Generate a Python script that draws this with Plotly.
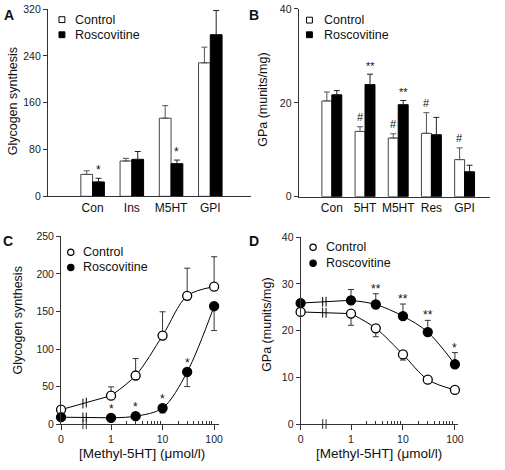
import numpy as np
import plotly.graph_objects as go

# ---------------- data ----------------
# Panel A
a_cats = ["Con", "Ins", "M5HT", "GPI"]
a_ctrl = [37.5, 60.4, 133.7, 228.3]
a_ctrl_err = [6.1, 4.5, 21.3, 26.8]
a_ros = [24.6, 63.2, 55.9, 276.4]
a_ros_err = [6.2, 13.4, 6.1, 41.4]
a_ctrl_sig = ["", "", "", ""]
a_ros_sig = ["*", "", "*", ""]
a_yticks = [0, 80, 160, 240, 320]

# Panel B
b_cats = ["Con", "5HT", "M5HT", "Res", "GPI"]
b_ctrl = [20.4, 13.9, 12.5, 13.5, 7.9]
b_ctrl_err = [1.9, 1.0, 0.9, 4.4, 2.5]
b_ros = [21.7, 23.9, 19.6, 13.2, 5.3]
b_ros_err = [0.9, 2.2, 0.9, 3.7, 1.4]
b_ctrl_sig = ["", "#", "#", "#", "#"]
b_ros_sig = ["", "**", "**", "", ""]
b_yticks = [0, 20, 40]

# Panels C and D (x = [Methyl-5HT], umol/l)
conc = [0, 1, 3, 10, 30, 100]
conc_ticks = [0, 1, 10, 100]

c_ctrl = [19.5, 38.1, 64.9, 118.0, 170.8, 183.0]
c_ctrl_err = [0, 11.7, 22.5, 31.6, 36.8, 39.8]
c_ros = [9.5, 8.7, 10.8, 21.6, 69.6, 157.0]
c_ros_err = [0, 0, 0, 6.5, 19.4, 32.4]
c_ros_sig = ["", "*", "*", "*", "*", ""]
c_yticks = [0, 50, 100, 150, 200, 250]

d_ctrl = [24.0, 23.65, 20.5, 14.9, 9.5, 7.3]
d_ctrl_err = [0, 2.5, 1.8, 1.2, 0.7, 0.55]
d_ros = [25.9, 26.5, 25.6, 23.1, 19.7, 12.8]
d_ros_err = [0, 2.3, 2.3, 2.6, 2.5, 2.5]
d_ros_sig = ["", "", "**", "**", "**", "*"]
d_yticks = [0, 10, 20, 30, 40]

# ---------------- style ----------------
W, H = 505, 470
FONT = "Liberation Sans, Arial, sans-serif"
AX = "#333333"
ZERO_POS = -0.97          # where the "0" concentration sits on the log axis
BREAK_POS = [-0.545, -0.48]
BW = 0.3                  # bar width in category units


def px(x):
    return x / W


def py(y):
    return 1 - y / H


def pos(c):
    return float(np.log10(c)) if c > 0 else ZERO_POS


fig = go.Figure()
annotations = []
shapes = []


def bar_panel(cats, ctrl, ctrl_err, ros, ros_err, ctrl_sig, ros_sig, xa, ya, sig_font):
    idx = list(range(len(cats)))
    fig.add_trace(go.Bar(
        x=idx, y=ctrl, width=BW, offset=-BW, xaxis=xa, yaxis=ya,
        marker=dict(color="white", line=dict(color="#444444", width=1)),
        error_y=dict(type="data", symmetric=False, array=ctrl_err,
                     arrayminus=[0] * len(ctrl), color="#555555", thickness=1, width=3),
        showlegend=False))
    fig.add_trace(go.Bar(
        x=idx, y=ros, width=BW, offset=0, xaxis=xa, yaxis=ya,
        marker=dict(color="black", line=dict(color="black", width=1)),
        error_y=dict(type="data", symmetric=False, array=ros_err,
                     arrayminus=[0] * len(ros), color="#222222", thickness=1, width=3),
        showlegend=False))
    for i in idx:
        for sig, val, err, off in ((ctrl_sig[i], ctrl[i], ctrl_err[i], -BW / 2),
                                   (ros_sig[i], ros[i], ros_err[i], BW / 2)):
            if sig:
                ys = 6 if "#" in sig else 4
                annotations.append(dict(
                    x=i + off, y=val + err, xref=xa, yref=ya, text=sig, showarrow=False,
                    yanchor="middle", yshift=ys + 4,
                    font=dict(family=FONT, size=sig_font, color="#111")))


bar_panel(a_cats, a_ctrl, a_ctrl_err, a_ros, a_ros_err, a_ctrl_sig, a_ros_sig, "x", "y", 12)
bar_panel(b_cats, b_ctrl, b_ctrl_err, b_ros, b_ros_err, b_ctrl_sig, b_ros_sig, "x2", "y2", 11)


def curve_panel(ctrl, ctrl_err, ctrl_up, ros, ros_err, ros_up, ros_sig, xa, ya, sig_gap):
    xs = [pos(c) for c in conc]
    for vals, errs, up, fill in ((ctrl, ctrl_err, ctrl_up, "white"),
                                 (ros, ros_err, ros_up, "black")):
        # straight segment across the axis break (0 -> 1)
        fig.add_trace(go.Scatter(x=xs[:2], y=vals[:2], mode="lines", xaxis=xa, yaxis=ya,
                                 line=dict(color="black", width=1), showlegend=False,
                                 cliponaxis=False))
        # smooth curve 1 -> 100
        fig.add_trace(go.Scatter(x=xs[1:], y=vals[1:], mode="lines", xaxis=xa, yaxis=ya,
                                 line=dict(color="black", width=1, shape="spline",
                                           smoothing=0.9),
                                 showlegend=False, cliponaxis=False))
        # break marks on the curve
        by = list(np.interp(BREAK_POS, xs[:2], vals[:2]))
        fig.add_trace(go.Scatter(x=BREAK_POS, y=by, mode="markers", xaxis=xa, yaxis=ya,
                                 marker=dict(symbol="line-ns", size=7,
                                             line=dict(color="black", width=1)),
                                 showlegend=False, cliponaxis=False))
        zeros = [0] * len(vals)
        fig.add_trace(go.Scatter(
            x=xs, y=vals, mode="markers", xaxis=xa, yaxis=ya, cliponaxis=False,
            marker=dict(size=9, color=fill, line=dict(color="black", width=1.3)),
            error_y=dict(type="data", symmetric=False,
                         array=errs if up else zeros,
                         arrayminus=zeros if up else errs,
                         color="#333333", thickness=1, width=3),
            showlegend=False))
    # break marks on the x axis
    fig.add_trace(go.Scatter(x=BREAK_POS, y=[0, 0], mode="markers", xaxis=xa, yaxis=ya,
                             marker=dict(symbol="line-ns", size=7,
                                         line=dict(color=AX, width=1)),
                             showlegend=False, cliponaxis=False))
    for i, s in enumerate(ros_sig):
        if s:
            top = ros[i] + (ros_err[i] if ros_up else 0)
            annotations.append(dict(
                x=xs[i], y=top, xref=xa, yref=ya, text=s, showarrow=False,
                yanchor="middle", yshift=sig_gap,
                font=dict(family=FONT, size=12, color="#111")))


curve_panel(c_ctrl, c_ctrl_err, True, c_ros, c_ros_err, False, c_ros_sig, "x3", "y3", 9)
curve_panel(d_ctrl, d_ctrl_err, False, d_ros, d_ros_err, True, d_ros_sig, "x4", "y4", 5)

# ---------------- axes ----------------
tickfont = dict(family=FONT, size=10.5, color="#222")
catfont = dict(family=FONT, size=12, color="#111")


def yax(domain, rng, ticks):
    return dict(domain=domain, range=rng, tickvals=ticks, showline=True, linecolor=AX,
                linewidth=1, ticks="outside", ticklen=4, tickcolor=AX, showgrid=False,
                zeroline=False, tickfont=tickfont, fixedrange=True)


def xcat(domain, rng, cats):
    return dict(domain=domain, range=rng, tickvals=list(range(len(cats))), ticktext=cats,
                showline=True, linecolor=AX, linewidth=1, ticks="", showgrid=False,
                zeroline=False, tickfont=catfont, fixedrange=True)


minor_vals = [np.log10(m * d) for d in (1, 10) for m in range(2, 10)]


def xlog(domain, rng):
    return dict(domain=domain, range=rng, tickvals=[pos(c) for c in conc_ticks],
                ticktext=[str(c) for c in conc_ticks],
                showline=True, linecolor=AX, linewidth=1, ticks="outside", ticklen=5,
                tickcolor=AX, showgrid=False, zeroline=False, tickfont=tickfont,
                minor=dict(tickvals=minor_vals, ticks="inside", ticklen=3, tickcolor=AX),
                fixedrange=True)


layout = dict(
    width=W, height=H, margin=dict(l=0, r=0, t=0, b=0),
    paper_bgcolor="white", plot_bgcolor="white", barmode="overlay",
    showlegend=False,
    xaxis=xcat([px(45.7), px(253)], [-1.14, 4.05], a_cats),
    yaxis=yax([py(195.3), py(3.3)], [0, 320], a_yticks),
    xaxis2=xcat([px(301), px(496)], [-1.0, 4.77], b_cats),
    yaxis2=yax([py(195.7), py(3.0)], [0, 40], b_yticks),
    xaxis3=xlog([px(59.1), px(220.2)], [ZERO_POS, 2.1]),
    yaxis3=yax([py(429.3), py(236.3)], [0, 250], c_yticks),
    xaxis4=xlog([px(303.0), px(463.3)], [ZERO_POS, 2.06]),
    yaxis4=yax([py(429.0), py(237.3)], [0, 40], d_yticks),
)
for i in ("", "2", "3", "4"):
    layout["yaxis" + i]["anchor"] = "x" + i
    layout["xaxis" + i]["anchor"] = "y" + i


# ---------------- texts ----------------
def txt(x, y, s, size=12, angle=0, bold=False, xanchor="center"):
    annotations.append(dict(
        x=px(x), y=py(y), xref="paper", yref="paper", text=f"<b>{s}</b>" if bold else s,
        showarrow=False, textangle=angle, xanchor=xanchor, yanchor="middle",
        font=dict(family=FONT, size=size, color="#111")))


txt(6, 9, "A", 14, bold=True)
txt(256, 9, "B", 14, bold=True)
txt(5, 241, "C", 14, bold=True)
txt(256, 241, "D", 14, bold=True)

txt(11, 98, "Glycogen synthesis", 12.5, angle=-90)
txt(264, 96, "GPa (munits/mg)", 12.5, angle=-90)
txt(15, 323, "Glycogen synthesis", 12.5, angle=-90)
txt(268, 327, "GPa (munits/mg)", 12.5, angle=-90)
txt(142, 459, "[Methyl-5HT] (μmol/l)", 13.5)
txt(383, 459, "[Methyl-5HT] (μmol/l)", 13.5)


# legends
def leg_square(cx, cy, filled):
    shapes.append(dict(type="rect", xref="paper", yref="paper",
                       x0=px(cx - 3), x1=px(cx + 3), y0=py(cy + 3), y1=py(cy - 3),
                       fillcolor="black" if filled else "white",
                       line=dict(color="black", width=1)))


def leg_circle(cx, cy, filled):
    shapes.append(dict(type="circle", xref="paper", yref="paper",
                       x0=px(cx - 3.2), x1=px(cx + 3.2), y0=py(cy + 3.2), y1=py(cy - 3.2),
                       fillcolor="black" if filled else "white",
                       line=dict(color="black", width=1.2)))


leg_square(60, 14, False); txt(71.5, 14, "Control", 12.5, xanchor="left")
leg_square(60, 29.5, True); txt(71.5, 29.5, "Roscovitine", 12.5, xanchor="left")
leg_square(312, 14.5, False); txt(324.5, 14.5, "Control", 12.5, xanchor="left")
leg_square(312, 29.5, True); txt(324.5, 29.5, "Roscovitine", 12.5, xanchor="left")
leg_circle(69, 252.7, False); txt(79, 252.7, "Control", 12.5, xanchor="left")
leg_circle(69, 268.3, True); txt(79, 268.3, "Roscovitine", 12.5, xanchor="left")
leg_circle(315.7, 247.5, False); txt(326.5, 247.5, "Control", 12.5, xanchor="left")
leg_circle(315.7, 264, True); txt(326.5, 264, "Roscovitine", 12.5, xanchor="left")

layout["annotations"] = annotations
layout["shapes"] = shapes
fig.update_layout(**layout)
fig.write_html(
    "out.html",
    config={"displayModeBar": False},
    post_script="document.body.style.margin='0';document.body.style.padding='0';",
)
